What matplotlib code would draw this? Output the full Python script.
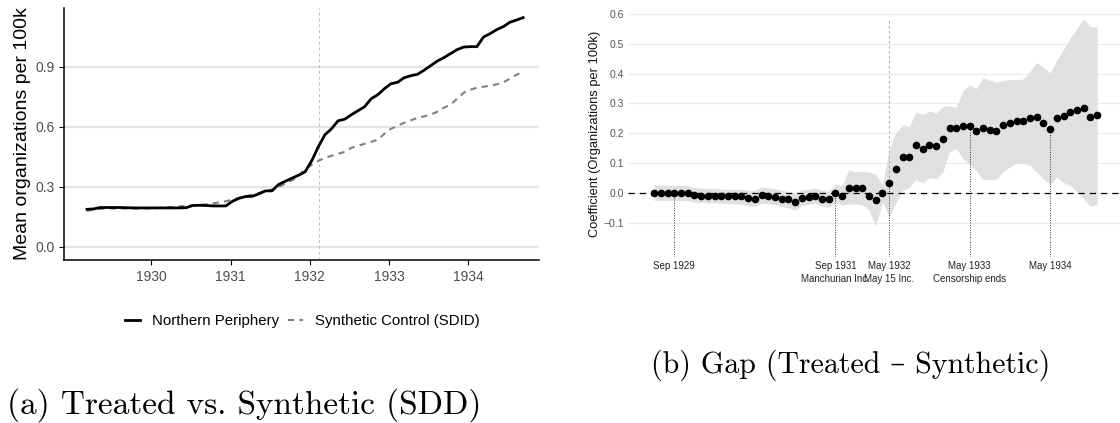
import matplotlib
matplotlib.use("Agg")
import matplotlib.pyplot as plt
from matplotlib.lines import Line2D

plt.rcParams['font.family'] = ['Liberation Sans', 'DejaVu Sans']
plt.rcParams['axes.unicode_minus'] = True

# ---------------- Panel (a): treated vs synthetic ----------------
start_year = 1929.19          # decimal year of first monthly observation
treat_date = 1932.11
year_ticks = [1930, 1931, 1932, 1933, 1934]
y_ticks_a = [0.0, 0.3, 0.6, 0.9]

treated = [0.188, 0.190, 0.197, 0.197, 0.197, 0.197, 0.196, 0.195, 0.195, 0.195,
           0.195, 0.195, 0.195, 0.195, 0.195, 0.196, 0.207, 0.208, 0.207, 0.205,
           0.205, 0.205, 0.228, 0.243, 0.252, 0.253, 0.265, 0.280, 0.280, 0.312,
           0.328, 0.343, 0.358, 0.375, 0.430, 0.500, 0.560, 0.590, 0.630, 0.638,
           0.660, 0.680, 0.700, 0.740, 0.760, 0.790, 0.815, 0.822, 0.845, 0.855,
           0.862, 0.882, 0.905, 0.928, 0.945, 0.965, 0.985, 0.998, 1.000, 1.000,
           1.048, 1.065, 1.085, 1.100, 1.122, 1.133, 1.145]

synthetic = [0.180, 0.187, 0.190, 0.192, 0.192, 0.192, 0.192, 0.192, 0.192, 0.192,
             0.192, 0.195, 0.197, 0.200, 0.203, 0.205, 0.208, 0.210, 0.213, 0.217,
             0.223, 0.228, 0.237, 0.245, 0.253, 0.262, 0.270, 0.278, 0.287, 0.300,
             0.317, 0.333, 0.353, 0.390, 0.410, 0.430, 0.445, 0.455, 0.465, 0.475,
             0.495, 0.505, 0.515, 0.525, 0.535, 0.565, 0.590, 0.605, 0.620, 0.632,
             0.645, 0.652, 0.660, 0.675, 0.695, 0.710, 0.740, 0.770, 0.785, 0.795,
             0.800, 0.805, 0.812, 0.822, 0.840, 0.860, 0.875]

# ---------------- Panel (b): gap coefficients ----------------
# monthly index 0 = Jun 1929 ... 66 = Dec 1934
coef = [0.000, -0.002, 0.001, 0.001, 0.001, 0.001, -0.008, -0.009, -0.009, -0.009,
        -0.012, -0.012, -0.012, -0.012, -0.018, -0.019, -0.008, -0.011, -0.013, -0.020,
        -0.022, -0.029, -0.016, -0.013, -0.009, -0.020, -0.020, -0.001, -0.010, 0.018,
        0.015, 0.015, -0.010, -0.025, 0.000, 0.032, 0.081, 0.119, 0.122, 0.159,
        0.148, 0.162, 0.158, 0.180, 0.217, 0.217, 0.226, 0.223, 0.207, 0.217,
        0.212, 0.209, 0.227, 0.235, 0.241, 0.241, 0.250, 0.253, 0.233, 0.215,
        0.251, 0.258, 0.272, 0.277, 0.285, 0.256, 0.261]

ci_upper = [0.026, 0.026, 0.025, 0.025, 0.025, 0.024, 0.018, 0.016, 0.015, 0.015,
            0.013, 0.012, 0.012, 0.012, 0.008, 0.008, 0.020, 0.017, 0.014, 0.008,
            0.005, -0.002, 0.010, 0.012, 0.016, 0.008, 0.005, 0.030, 0.026, 0.077,
            0.070, 0.072, 0.070, 0.063, 0.025, 0.145, 0.200, 0.228, 0.222, 0.272,
            0.263, 0.275, 0.267, 0.290, 0.292, 0.287, 0.343, 0.362, 0.350, 0.386,
            0.378, 0.370, 0.378, 0.380, 0.380, 0.382, 0.408, 0.437, 0.422, 0.402,
            0.446, 0.482, 0.520, 0.552, 0.583, 0.557, 0.556]

ci_lower = [-0.025, -0.026, -0.025, -0.025, -0.026, -0.026, -0.031, -0.032, -0.033, -0.033,
            -0.035, -0.036, -0.037, -0.038, -0.043, -0.045, -0.035, -0.037, -0.040, -0.046,
            -0.050, -0.058, -0.042, -0.039, -0.035, -0.045, -0.048, -0.030, -0.040, -0.038,
            -0.037, -0.040, -0.058, -0.112, -0.030, -0.080, -0.035, 0.008, 0.018, 0.045,
            0.033, 0.052, 0.047, 0.070, 0.137, 0.150, 0.115, 0.095, 0.075, 0.045,
            0.044, 0.046, 0.072, 0.087, 0.100, 0.099, 0.092, 0.070, 0.047, 0.028,
            0.054, 0.035, 0.025, 0.003, -0.020, -0.045, -0.038]

event_idx = [3, 27, 35, 47, 59]
event_labels = ["Sep 1929", "Sep 1931\nManchurian Inc.", "May 1932\nMay 15 Inc.",
                "May 1933\nCensorship ends", "May 1934"]
treat_idx = 35
y_ticks_b = [-0.1, 0.0, 0.1, 0.2, 0.3, 0.4, 0.5, 0.6]

W, H = 1120, 423
fig = plt.figure(figsize=(W / 100, H / 100), dpi=100)

# ---------- panel (a) ----------
axa = fig.add_axes([64 / W, 1 - 260 / H, 475 / W, 252 / H])
xa = [start_year + i / 12 for i in range(len(treated))]
for y in y_ticks_a:
    axa.axhline(y, color='#e5e5e5', lw=1.5, zorder=0)
axa.axvline(treat_date, color='#bdbdbd', lw=0.7, ls=(0, (3, 3)), zorder=1)
axa.plot(xa, synthetic, color='#808080', lw=1.5, ls=(0, (3, 2.5)), zorder=2)
axa.plot(xa, treated, color='black', lw=2.0, zorder=3)
axa.set_xlim(1928.90, 1934.89)
axa.set_ylim(-0.065, 1.193)
axa.set_xticks(year_ticks)
axa.set_xticklabels([str(y) for y in year_ticks])
axa.set_yticks(y_ticks_a)
axa.set_yticklabels([f"{v:.1f}" for v in y_ticks_a])
axa.tick_params(axis='both', colors='black', labelcolor='#4d4d4d', labelsize=10,
                length=3.5, width=0.8, direction='out')
for side in ['top', 'right']:
    axa.spines[side].set_visible(False)
for side in ['left', 'bottom']:
    axa.spines[side].set_linewidth(1.1)
axa.set_ylabel("Mean organizations per 100k", fontsize=14, color='black', labelpad=3)

handles = [Line2D([], [], color='black', lw=2.0),
           Line2D([], [], color='#808080', lw=1.5, ls=(0, (3, 2.5)))]
fig.legend(handles, ["Northern Periphery", "Synthetic Control (SDID)"],
           loc='center', bbox_to_anchor=(302 / W, 1 - 321 / H), ncol=2,
           frameon=False, fontsize=10.8, handlelength=1.0, handletextpad=0.8,
           columnspacing=0.6)

# ---------- panel (b) ----------
axb = fig.add_axes([628 / W, 1 - 257 / H, 492 / W, 246 / H])
xb = list(range(len(coef)))
for y in y_ticks_b:
    axb.axhline(y, color='#ebebeb', lw=0.8, zorder=0)
axb.fill_between(xb, ci_lower, ci_upper, color='#e0e0e0', lw=0, zorder=1)
axb.axhline(0, color='black', lw=0.9, ls=(0, (5, 4)), zorder=2)
axb.vlines(treat_idx, 0, 0.585, color='#9e9e9e', lw=0.6, ls=(0, (3, 3)), zorder=2)
ymin_b = -0.215
for ix in event_idx:
    axb.vlines(ix, ymin_b, coef[ix], color='#333333', lw=0.7, ls=(0, (1, 1.5)), zorder=2)
axb.plot(xb, coef, 'o', color='black', ms=4.5, zorder=4)
axb.set_xlim(-3.9, 69.4)
axb.set_ylim(ymin_b, 0.61)
axb.set_xticks(event_idx)
axb.set_xticklabels(event_labels, fontsize=7, color='#222222', linespacing=1.4)
axb.set_yticks(y_ticks_b)
axb.set_yticklabels([f"{v:.1f}".replace('-', '\u2212') for v in y_ticks_b],
                    fontsize=7.5, color='#555555')
axb.tick_params(axis='both', length=0, pad=3)
for s in axb.spines.values():
    s.set_visible(False)
axb.set_ylabel("Coefficient (Organizations per 100k)", fontsize=9.3, color='#111111',
               labelpad=2)

# ---------- captions ----------
cap_font = ['cmr10', 'DejaVu Serif']
fig.text(7 / W, 1 - 405 / H, "(a) Treated vs. Synthetic (SDD)", family=cap_font,
         fontsize=24, ha='left', va='center')
fig.text(651 / W, 1 - 365 / H, "(b) Gap (Treated \u2013 Synthetic)", family=cap_font,
         fontsize=21.5, ha='left', va='center')

fig.savefig("out.png", dpi=100)
